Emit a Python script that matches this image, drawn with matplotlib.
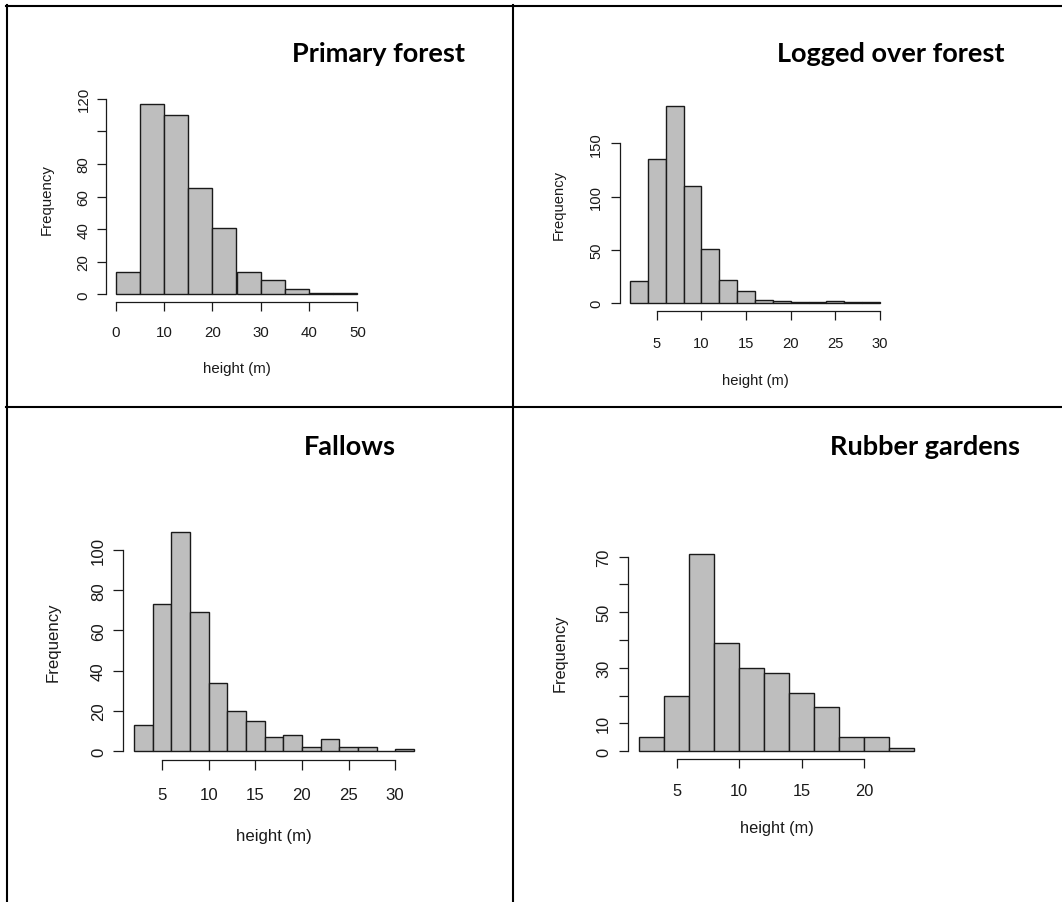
import numpy as np
import matplotlib
matplotlib.use("Agg")
import matplotlib.pyplot as plt
from matplotlib.lines import Line2D

W, H = 1062, 903

titles = ["Primary forest", "Logged over forest", "Fallows", "Rubber gardens"]

primary_edges = [0, 5, 10, 15, 20, 25, 30, 35, 40, 45, 50]
primary_counts = [14, 117, 110, 65, 41, 14, 9, 3, 1, 1]
primary_xticks = [0, 10, 20, 30, 40, 50]
primary_yticks = [0, 20, 40, 60, 80, 100, 120]
primary_ylabels = ["0", "20", "40", "60", "80", "", "120"]

logged_edges = [2, 4, 6, 8, 10, 12, 14, 16, 18, 20, 22, 24, 26, 28, 30]
logged_counts = [21, 135, 185, 110, 51, 22, 11, 3, 2, 1, 1, 2, 1, 1]
logged_xticks = [5, 10, 15, 20, 25, 30]
logged_yticks = [0, 50, 100, 150]
logged_ylabels = ["0", "50", "100", "150"]

fallows_edges = [2, 4, 6, 8, 10, 12, 14, 16, 18, 20, 22, 24, 26, 28, 30, 32]
fallows_counts = [13, 73, 109, 69, 34, 20, 15, 7, 8, 2, 6, 2, 2, 0, 1]
fallows_xticks = [5, 10, 15, 20, 25, 30]
fallows_yticks = [0, 20, 40, 60, 80, 100]
fallows_ylabels = ["0", "20", "40", "60", "80", "100"]

rubber_edges = [2, 4, 6, 8, 10, 12, 14, 16, 18, 20, 22, 24]
rubber_counts = [5, 20, 71, 39, 30, 28, 21, 16, 5, 5, 1]
rubber_xticks = [5, 10, 15, 20]
rubber_yticks = [0, 10, 20, 30, 40, 50, 60, 70]
rubber_ylabels = ["0", "10", "", "30", "", "50", "", "70"]

BAR_C = "#bebebe"
INK = "#1a1a1a"

plt.rcParams["font.family"] = ["Liberation Sans", "DejaVu Sans"]

fig = plt.figure(figsize=(W / 100, H / 100), dpi=100)


def px_axes(l, t, r, b):
    return fig.add_axes([l / W, 1 - b / H, (r - l) / W, (b - t) / H])


# layout in pixels: axes box, title centre, font px, label centres, tick pads (pt)
layout = [
    dict(box=(106, 97, 367, 303), title=(378, 54), fpx=15.0,
         ylab=46.3, xlab=368.7, ypad=4.6, xpad=9.8, tick=9),
    dict(box=(620, 99, 890, 312), title=(891, 54), fpx=14.8,
         ylab=558.3, xlab=381.3, ypad=5.5, xpad=11.3, tick=9),
    dict(box=(123, 524, 425, 761), title=(349.5, 447), fpx=16.7,
         ylab=53.3, xlab=836.7, ypad=5.1, xpad=12.4, tick=10),
    dict(box=(628, 547, 925, 760), title=(924.5, 447), fpx=16.4,
         ylab=559.7, xlab=828.3, ypad=5.6, xpad=11.1, tick=9),
]

data = [
    (primary_edges, primary_counts, primary_xticks, primary_yticks, primary_ylabels),
    (logged_edges, logged_counts, logged_xticks, logged_yticks, logged_ylabels),
    (fallows_edges, fallows_counts, fallows_xticks, fallows_yticks, fallows_ylabels),
    (rubber_edges, rubber_counts, rubber_xticks, rubber_yticks, rubber_ylabels),
]

for title, (edges, counts, xt, yt, ylbl), lay in zip(titles, data, layout):
    l, t, r, b = lay["box"]
    ax = px_axes(l, t, r, b)
    fs = lay["fpx"] * 0.72
    edges = np.asarray(edges)
    ax.bar(edges[:-1], counts, width=np.diff(edges), align="edge",
           color=BAR_C, edgecolor=INK, linewidth=1.0)

    # R style axis extents (4% padding)
    xr = edges[-1] - edges[0]
    ax.set_xlim(edges[0] - 0.04 * xr, edges[-1] + 0.04 * xr)
    ymax = max(counts)
    ax.set_ylim(-0.04 * ymax, 1.04 * ymax)

    for s in ("top", "right"):
        ax.spines[s].set_visible(False)
    ax.spines["left"].set_bounds(yt[0], yt[-1])
    ax.spines["bottom"].set_bounds(xt[0], xt[-1])
    for s in ("left", "bottom"):
        ax.spines[s].set_color(INK)
        ax.spines[s].set_linewidth(0.9)

    ax.set_xticks(xt)
    ax.set_xticklabels([str(v) for v in xt])
    ax.set_yticks(yt)
    ax.set_yticklabels(ylbl, rotation=90, va="center")
    tl = lay["tick"] * 0.72
    ax.tick_params(axis="x", direction="out", length=tl, width=0.9, color=INK,
                   labelsize=fs, labelcolor=INK, pad=lay["xpad"])
    ax.tick_params(axis="y", direction="out", length=tl, width=0.9, color=INK,
                   labelsize=fs, labelcolor=INK, pad=lay["ypad"])

    ax.set_xlabel("height (m)", fontsize=fs, color=INK, va="center")
    ax.set_ylabel("Frequency", fontsize=fs, color=INK, va="center")
    ax.xaxis.set_label_coords(0.5, (b - lay["xlab"]) / (b - t))
    ax.yaxis.set_label_coords((lay["ylab"] - l) / (r - l), 0.5)

    tx, ty = lay["title"]
    fig.text(tx / W, 1 - ty / H, title, ha="center", va="center",
             fontsize=19.5, fontweight="bold", family=["Lato", "DejaVu Sans"])

# table borders
def hline(y, x0, x1):
    fig.add_artist(Line2D([x0 / W, x1 / W], [1 - y / H, 1 - y / H],
                          color="black", linewidth=1.5))


def vline(x, y0, y1):
    fig.add_artist(Line2D([x / W, x / W], [1 - y0 / H, 1 - y1 / H],
                          color="black", linewidth=1.5))


hline(7, 6, W)
hline(408, 6, W)
vline(7, 6, H)
vline(513, 6, H)

fig.savefig("out.png", dpi=100)
